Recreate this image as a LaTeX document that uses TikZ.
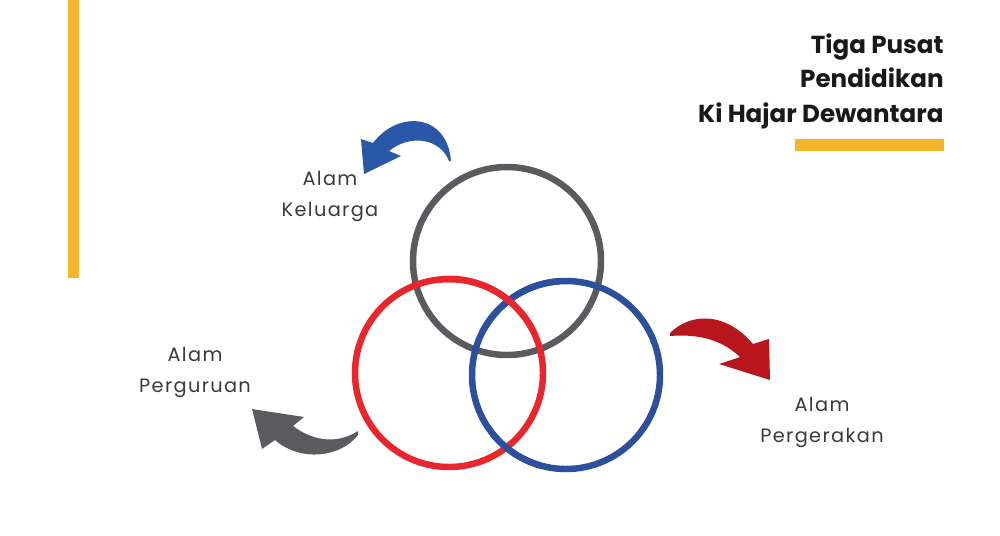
\documentclass[tikz,border=0pt]{standalone}
\usepackage{fontspec}
\setmainfont{Poppins}
\newfontfamily\labelfont[LetterSpace=7]{Poppins}
\newfontfamily\titlefont{Poppins}[BoldFont=* Bold]
\definecolor{ygold}{HTML}{F4B62A}
\definecolor{cgray}{HTML}{5A5A5F}
\definecolor{cred}{HTML}{E8262B}
\definecolor{cblue}{HTML}{2C4F9E}
\definecolor{ablue}{HTML}{2B57A9}
\definecolor{ared}{HTML}{B8161D}
\definecolor{agray}{HTML}{5B5B5F}
\definecolor{txt}{HTML}{3A3A3A}
\begin{document}
\begin{tikzpicture}[x=0.02cm,y=-0.02cm,
  ring/.style={line width=6.5pt*0.567},
  lbl/.style={font=\labelfont\fontsize{11}{17.6}\selectfont, text=txt, align=center, inner sep=0pt},
  ttl/.style={font=\titlefont\bfseries\fontsize{14}{19.8}\selectfont, text=black!90, align=right, inner sep=0pt, anchor=north east}]
\useasboundingbox[fill=white] (0,0) rectangle (1000,535);
% yellow bars
\fill[ygold] (68,0) rectangle (79,278);
\fill[ygold] (795,139) rectangle (944,151);
% title
\node[ttl] (title) at (944,33) {Tiga Pusat\\Pendidikan\\Ki Hajar Dewantara};
% circles
\draw[ring, cgray] (507,261) circle[radius=94];
\draw[ring, cblue] (566,375) circle[radius=94];
\draw[ring, cred] (449,373) circle[radius=94];
\begin{scope}
  \clip (490,425) rectangle (540,480);
  \draw[ring, cblue] (566,375) circle[radius=94];
\end{scope}
\begin{scope}
  \clip (440,260) rectangle (560,330);
  \draw[ring, cblue] (566,375) circle[radius=94];
  \draw[ring, cred] (449,373) circle[radius=94];
\end{scope}
% arrows
\fill[ablue] (451,161) .. controls (447,113) and (398,110) .. (373,143) -- (361,139) -- (364,174) -- (401,156) -- (389,151) .. controls (410,134) and (440,138) .. (449,161) -- cycle;
\fill[ared] (670,333) .. controls (690,313) and (725,311) .. (753,344) -- (769,339) -- (770,380) -- (719,364) -- (740,357) .. controls (720,338) and (695,334) .. (670,336) -- cycle;
\fill[agray] (358,431) .. controls (335,446) and (310,439) .. (293,426) -- (304,417) -- (252,409) -- (262,449) -- (275,440) .. controls (300,462) and (340,458) .. (358,435) -- cycle;
% labels
\node[lbl] (kel) at (330,196) {Alam\\Keluarga};
\node[lbl] (per) at (195,372) {Alam\\Perguruan};
\node[lbl] (pgr) at (822,422) {Alam\\Pergerakan};
\end{tikzpicture}
\end{document}
